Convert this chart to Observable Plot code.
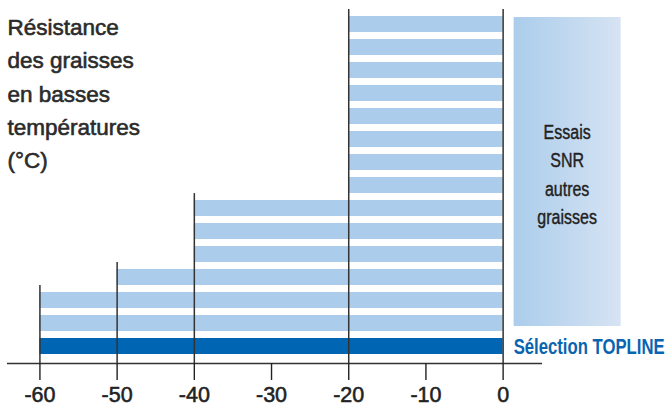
<!DOCTYPE html>
<html>
<head>
<meta charset="utf-8">
<script src="https://cdn.jsdelivr.net/npm/d3@7"></script>
<script src="https://cdn.jsdelivr.net/npm/@observablehq/plot@0.6"></script>
<style>
  html, body { margin: 0; padding: 0; background: #fff; }
  g[aria-label="x-axis tick label"] text { stroke: #222; stroke-width: 0.55px; }
  g[aria-label="text"] text { stroke: #2b2b2b; stroke-width: 0.6px; }
</style>
</head>
<body>
<div id="chart"></div>
<script>
// ---- Data ----
const titleLines = ["Résistance", "des graisses", "en basses", "températures", "(°C)"];
const toplineLabel = "Sélection TOPLINE";
const toplineStart = -60;                     // bottom (dark) bar, °C
// other greases, from bottom to top: lowest working temperature (°C)
const otherStarts = [-60, -60, -50, -40, -40, -40, -20, -20, -20, -20, -20, -20, -20, -20];
const legendLines = ["Essais", "SNR", "autres", "graisses"];
const xTicks = [-60, -50, -40, -30, -20, -10, 0];

// ---- Styles ----
const LIGHT = "#abcdeb";
const DARK = "#0066b3";
const INK = "#222";
const FONT = "'Liberation Sans', Arial, Helvetica, sans-serif";

// rows: 0 = TOPLINE, 1.. = other greases
const rows = [{row: 0, start: toplineStart, kind: "topline"}]
  .concat(otherStarts.map((s, i) => ({row: i + 1, start: s, kind: "other"})));
const maxRow = d3.max(rows, d => d.row);

// vertical lines at each distinct start value + at 0
const groupValues = Array.from(new Set(rows.map(d => d.start))).concat([0]);
const groups = groupValues.map(v => ({
  x: v,
  top: v === 0 ? maxRow : d3.max(rows.filter(r => r.start === v), r => r.row)
}));

const half = 0.348;       // half bar thickness in row units
const yDomain = [-0.739, 14.565];

function legendMark(index, scales, values, dimensions, context) {
  const ns = "http://www.w3.org/2000/svg";
  const doc = context && context.document ? context.document : document;
  const g = d3.select(doc.createElementNS(ns, "g"));
  const x0 = scales.x(0);
  const bx = x0 + 11, bw = 107;
  const top = scales.y(maxRow) - 7;
  const bottom = scales.y(1) + 3;
  const grad = g.append("defs").append("linearGradient")
    .attr("id", "legendGrad").attr("x1", "0").attr("x2", "1").attr("y1", "0").attr("y2", "0");
  grad.append("stop").attr("offset", "0").attr("stop-color", "#abcdeb");
  grad.append("stop").attr("offset", "1").attr("stop-color", "#d6e3f3");
  g.append("rect").attr("x", bx).attr("y", top).attr("width", bw).attr("height", bottom - top)
    .attr("fill", "url(#legendGrad)");
  const cx = bx + bw / 2;
  const mid = (top + bottom) / 2;
  const lh = 28.4;
  legendLines.forEach((t, i) => {
    const by = mid - 1.5 * lh + 10 + i * lh;
    g.append("text")
      .attr("transform", `translate(${cx},${by}) scale(0.82,1)`)
      .attr("text-anchor", "middle")
      .attr("font-family", FONT)
      .attr("font-size", 19.5)
      .attr("fill", INK)
      .attr("stroke", INK)
      .attr("stroke-width", 0.4)
      .text(t);
  });
  // TOPLINE label (condensed bold)
  g.append("text")
    .attr("transform", `translate(${bx},${scales.y(0) + 7.5}) scale(0.76,1)`)
    .attr("text-anchor", "start")
    .attr("font-family", FONT)
    .attr("font-size", 22)
    .attr("font-weight", "bold")
    .attr("fill", "#0a64b0")
    .text(toplineLabel);
  return g.node();
}

const chart = Plot.plot({
  width: 667,
  height: 406,
  marginLeft: 7,
  marginRight: 125,
  marginTop: 11,
  marginBottom: 43,
  style: {fontFamily: FONT, background: "#fff", overflow: "visible"},
  x: {domain: [-64.2, 5.1], axis: null},
  y: {domain: yDomain, axis: null},
  marks: [
    Plot.rect(rows.filter(d => d.kind === "other"), {
      x1: "start", x2: 0, y1: d => d.row - half, y2: d => d.row + half, fill: LIGHT
    }),
    Plot.rect(rows.filter(d => d.kind === "topline"), {
      x1: "start", x2: 0, y1: d => d.row - half, y2: d => d.row + half, fill: DARK
    }),
    Plot.ruleX(groups, {
      x: "x", y1: yDomain[0], y2: d => d.top + half + 0.3, stroke: "#333", strokeWidth: 1.5
    }),
    Plot.ruleY([yDomain[0]], {stroke: "#333", strokeWidth: 1.4}),
    Plot.axisX({
      ticks: xTicks, tickSize: 17, tickPadding: 6, fontSize: 21.5,
      tickFormat: d => String(d), color: INK, strokeWidth: 1.4, label: null
    }),
    Plot.text([titleLines.join("\n")], {
      text: d => d, frameAnchor: "top-left", textAnchor: "start", lineAnchor: "top",
      lineHeight: 1.48, fontSize: 22.5, fill: "#2b2b2b", dy: 0
    }),
    legendMark
  ]
});

document.getElementById("chart").appendChild(chart);
</script>
</body>
</html>
